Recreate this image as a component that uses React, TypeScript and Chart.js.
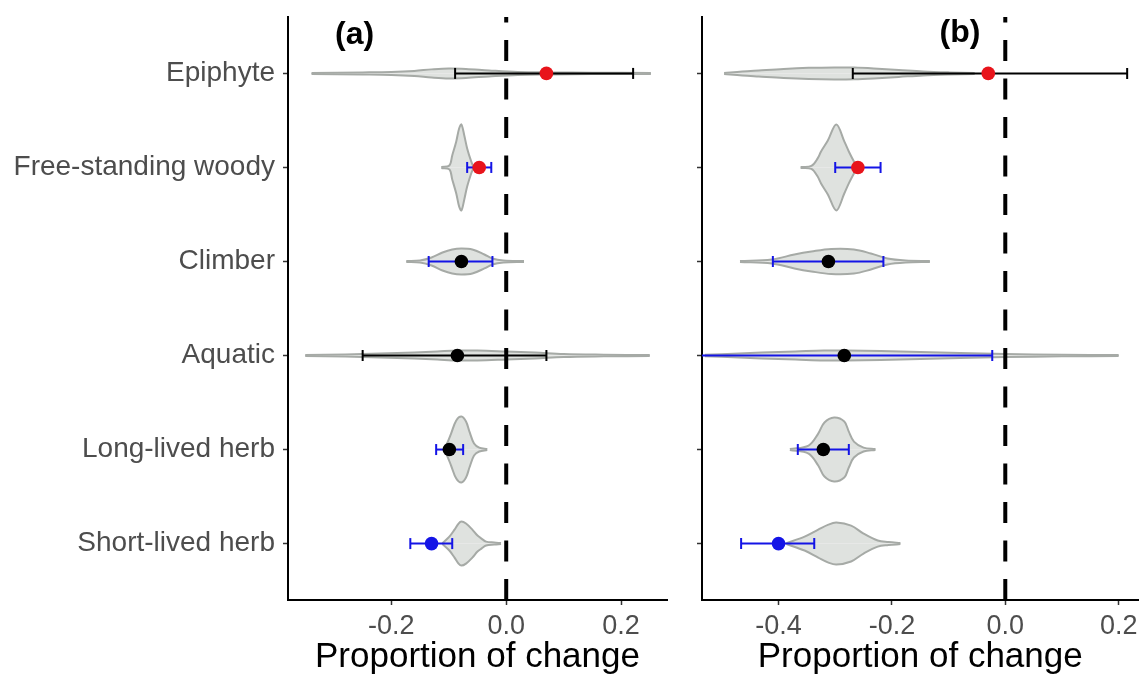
import React, { useEffect, useRef } from 'react';
import { Chart, registerables } from 'chart.js';

Chart.register(...registerables);

// ---------- data ----------
const categories = ['Epiphyte', 'Free-standing woody', 'Climber', 'Aquatic', 'Long-lived herb', 'Short-lived herb'];

const xTicksA = [-0.2, 0.0, 0.2];
const xTicksB = [-0.4, -0.2, 0.0, 0.2];

// Panel (a): point estimate and interval
const meanA = [0.07, -0.047, -0.078, -0.085, -0.099, -0.13];
const lowA = [-0.089, -0.068, -0.135, -0.25, -0.122, -0.167];
const highA = [0.221, -0.026, -0.024, 0.07, -0.075, -0.094];
const pointColorA = ['red', 'red', 'black', 'black', 'black', 'blue'];
const barColorA = ['black', 'blue', 'blue', 'black', 'blue', 'blue'];

// Panel (b)
const meanB = [-0.03, -0.26, -0.312, -0.284, -0.321, -0.40];
const lowB = [-0.269, -0.30, -0.41, -0.56, -0.366, -0.466];
const highB = [0.215, -0.22, -0.215, -0.023, -0.276, -0.337];
const pointColorB = ['red', 'red', 'black', 'black', 'black', 'blue'];
const barColorB = ['black', 'blue', 'blue', 'blue', 'blue', 'blue'];

// Violin profiles (x value, half-width in category units)
const violinXA = [
  [-0.339, -0.25, -0.2, -0.16, -0.13, -0.10, -0.07, -0.03, 0.02, 0.08, 0.15, 0.252],
  [-0.113, -0.099, -0.094, -0.087, -0.082, -0.078, -0.073, -0.068, -0.061, -0.057],
  [-0.174, -0.150, -0.130, -0.111, -0.094, -0.078, -0.059, -0.038, -0.024, -0.005, 0.031],
  [-0.35, -0.28, -0.22, -0.16, -0.12, -0.085, -0.05, 0.0, 0.05, 0.1, 0.17, 0.25],
  [-0.108, -0.103, -0.096, -0.087, -0.078, -0.070, -0.064, -0.056, -0.047, -0.033],
  [-0.111, -0.099, -0.090, -0.083, -0.078, -0.070, -0.059, -0.050, -0.043, -0.035, -0.021, -0.009],
];
const violinHA = [
  [0.005, 0.011, 0.016, 0.027, 0.043, 0.053, 0.048, 0.032, 0.016, 0.011, 0.007, 0.005],
  [0.005, 0.021, 0.128, 0.277, 0.415, 0.457, 0.340, 0.202, 0.064, 0.005],
  [0.005, 0.011, 0.043, 0.096, 0.128, 0.138, 0.128, 0.074, 0.032, 0.011, 0.005],
  [0.005, 0.011, 0.021, 0.032, 0.043, 0.053, 0.053, 0.043, 0.032, 0.016, 0.009, 0.005],
  [0.005, 0.064, 0.170, 0.309, 0.351, 0.298, 0.191, 0.064, 0.021, 0.005],
  [0.005, 0.074, 0.149, 0.213, 0.234, 0.213, 0.149, 0.085, 0.053, 0.021, 0.011, 0.005],
];
const violinXB = [
  [-0.496, -0.464, -0.435, -0.391, -0.347, -0.302, -0.267, -0.232, -0.188, -0.145, -0.098, -0.054],
  [-0.361, -0.342, -0.331, -0.325, -0.313, -0.298, -0.284, -0.276, -0.267, -0.261],
  [-0.468, -0.412, -0.372, -0.342, -0.307, -0.267, -0.237, -0.208, -0.176, -0.133],
  [-0.53, -0.49, -0.43, -0.37, -0.32, -0.28, -0.22, -0.15, -0.08, 0.0, 0.1, 0.2],
  [-0.380, -0.347, -0.330, -0.319, -0.302, -0.284, -0.276, -0.267, -0.250, -0.229],
  [-0.386, -0.354, -0.330, -0.312, -0.298, -0.272, -0.250, -0.225, -0.206, -0.185],
];
const violinHB = [
  [0.005, 0.021, 0.032, 0.048, 0.059, 0.064, 0.062, 0.053, 0.037, 0.021, 0.011, 0.005],
  [0.005, 0.016, 0.096, 0.170, 0.287, 0.457, 0.277, 0.170, 0.064, 0.005],
  [0.005, 0.021, 0.074, 0.106, 0.133, 0.128, 0.085, 0.032, 0.011, 0.005],
  [0.009, 0.016, 0.032, 0.043, 0.053, 0.053, 0.048, 0.037, 0.027, 0.016, 0.009, 0.005],
  [0.005, 0.043, 0.170, 0.287, 0.340, 0.298, 0.191, 0.085, 0.021, 0.005],
  [0.005, 0.074, 0.149, 0.202, 0.223, 0.191, 0.106, 0.032, 0.016, 0.005],
];

// ---------- styling ----------
const FONT = "'Liberation Sans', Arial, Helvetica, sans-serif";
const VIOLIN_FILL = '#dfe2df';
const VIOLIN_LINE = '#a6aaa6';
const COLORS: Record<string, string> = { red: '#e8141b', blue: '#1414e6', black: '#000000' };

const catY = (i: number) => categories.length - i;

function buildDatasets(mean: number[], low: number[], high: number[], pc: string[], bc: string[], vx: number[][], vh: number[][]) {
  const ds: any[] = [];
  vx.forEach((xs, i) => {
    const c = catY(i);
    const common = {
      borderColor: VIOLIN_LINE,
      backgroundColor: VIOLIN_FILL,
      borderWidth: 2,
      pointRadius: 0,
      tension: 0.35,
      order: 5,
      fill: { value: c },
    };
    ds.push({ ...common, data: xs.map((x, k) => ({ x, y: c + vh[i][k] })) });
    ds.push({ ...common, data: xs.map((x, k) => ({ x, y: c - vh[i][k] })) });
  });
  // dashed zero line (drawn from bottom upward)
  ds.push({
    data: [{ x: 0, y: 0.4 }, { x: 0, y: 6.6 }],
    borderColor: '#000',
    borderWidth: 4,
    borderDash: [21, 17.5],
    borderCapStyle: 'butt',
    pointRadius: 0,
    fill: false,
    order: 4,
  });
  // error bars
  mean.forEach((_, i) => {
    const c = catY(i);
    const col = COLORS[bc[i]];
    ds.push({
      data: [{ x: low[i], y: c }, { x: high[i], y: c }],
      borderColor: col,
      borderWidth: 2,
      pointStyle: 'line',
      pointRotation: 90,
      pointRadius: 5.5,
      pointBorderColor: col,
      pointBorderWidth: 2,
      fill: false,
      order: 3,
    });
  });
  // points
  ds.push({
    data: mean.map((m, i) => ({ x: m, y: catY(i) })),
    showLine: false,
    pointRadius: 6.8,
    pointBorderWidth: 0,
    pointBackgroundColor: pc.map((p) => COLORS[p]),
    pointBorderColor: pc.map((p) => COLORS[p]),
    fill: false,
    order: 1,
  });
  return ds;
}

const panelLabelPlugin = {
  id: 'panelLabel',
  afterDatasetsDraw(chart: any, _args: any, opts: any) {
    if (!opts || !opts.text) return;
    const { ctx, scales } = chart;
    ctx.save();
    ctx.font = `bold 32px ${FONT}`;
    ctx.fillStyle = '#000';
    ctx.textAlign = 'center';
    ctx.textBaseline = 'middle';
    ctx.fillText(opts.text, scales.x.getPixelForValue(opts.x), scales.y.getPixelForValue(opts.y));
    ctx.restore();
  },
};

type PanelProps = {
  left: number;
  width: number;
  yAxisWidth: number;
  padRight: number;
  showLabels: boolean;
  xmin: number;
  xmax: number;
  xticks: number[];
  label: string;
  labelX: number;
  labelY: number;
  mean: number[];
  low: number[];
  high: number[];
  pc: string[];
  bc: string[];
  vx: number[][];
  vh: number[][];
};

function Panel(p: PanelProps) {
  const ref = useRef<HTMLCanvasElement>(null);
  useEffect(() => {
    if (!ref.current) return;
    const chart = new Chart(ref.current, {
      type: 'line',
      data: { datasets: buildDatasets(p.mean, p.low, p.high, p.pc, p.bc, p.vx, p.vh) },
      plugins: [panelLabelPlugin],
      options: {
        responsive: false,
        animation: false,
        events: [],
        layout: { padding: { top: 17, right: p.padRight, left: 0, bottom: 0 } },
        plugins: {
          legend: { display: false },
          tooltip: { enabled: false },
          panelLabel: { text: p.label, x: p.labelX, y: p.labelY },
        } as any,
        scales: {
          x: {
            type: 'linear',
            min: p.xmin,
            max: p.xmax,
            afterBuildTicks: (s: any) => {
              s.ticks = p.xticks.map((v) => ({ value: v }));
            },
            ticks: {
              callback: (v: any) => Number(v).toFixed(1),
              font: { size: 27, family: FONT },
              color: '#4d4d4d',
              padding: 5,
              maxRotation: 0,
              autoSkip: false,
            },
            grid: { drawOnChartArea: false, drawTicks: true, tickLength: 5, tickColor: '#333', tickWidth: 1.5 },
            border: { display: true, color: '#000', width: 2 },
            title: {
              display: true,
              text: 'Proportion of change',
              font: { size: 35, family: FONT },
              color: '#000',
              padding: { top: 0, bottom: 1 },
            },
            afterFit: (s: any) => {
              s.height = 79;
              s.paddingLeft = 0;
              s.paddingRight = 0;
            },
          } as any,
          y: {
            type: 'linear',
            min: 0.4,
            max: 6.6,
            afterBuildTicks: (s: any) => {
              s.ticks = categories.map((_, i) => ({ value: catY(i) }));
            },
            ticks: {
              display: p.showLabels,
              callback: (v: any) => categories[categories.length - Math.round(Number(v))],
              font: { size: 28, family: FONT },
              color: '#4d4d4d',
              padding: 8,
              autoSkip: false,
            },
            grid: { drawOnChartArea: false, drawTicks: true, tickLength: 5, tickColor: '#333', tickWidth: 1.5 },
            border: { display: true, color: '#000', width: 2 },
            afterFit: (s: any) => {
              s.width = p.yAxisWidth;
              s.paddingTop = 0;
              s.paddingBottom = 0;
            },
          } as any,
        },
      },
    });
    return () => chart.destroy();
  }, []);
  return (
    <canvas
      ref={ref}
      width={p.width}
      height={679}
      style={{ position: 'absolute', left: p.left, top: 0, width: p.width, height: 679 }}
    />
  );
}

export default function App() {
  return (
    <div style={{ position: 'absolute', left: 0, top: 0, width: 1146, height: 679, background: '#fff' }}>
      <Panel
        left={0}
        width={675}
        yAxisWidth={288}
        padRight={8}
        showLabels={true}
        xmin={-0.38}
        xmax={0.28}
        xticks={xTicksA}
        label="(a)"
        labelX={-0.264}
        labelY={6.41}
        mean={meanA}
        low={lowA}
        high={highA}
        pc={pointColorA}
        bc={barColorA}
        vx={violinXA}
        vh={violinHA}
      />
      <Panel
        left={690}
        width={456}
        yAxisWidth={12}
        padRight={6}
        showLabels={false}
        xmin={-0.535}
        xmax={0.235}
        xticks={xTicksB}
        label="(b)"
        labelX={-0.08}
        labelY={6.43}
        mean={meanB}
        low={lowB}
        high={highB}
        pc={pointColorB}
        bc={barColorB}
        vx={violinXB}
        vh={violinHB}
      />
    </div>
  );
}
